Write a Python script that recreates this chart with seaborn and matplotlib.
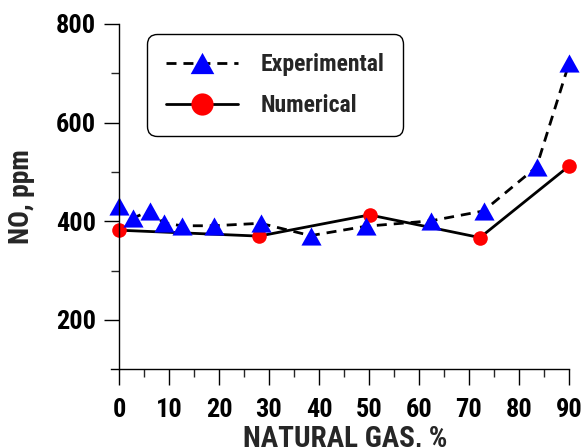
import matplotlib
matplotlib.use("Agg")
import matplotlib.pyplot as plt
import seaborn as sns
import pandas as pd
from matplotlib import font_manager
from matplotlib.lines import Line2D
from matplotlib.ticker import FixedLocator

# ---- data ----
exp_x = [0, 2.7, 6.1, 8.9, 12.5, 18.9, 28.3, 38.3, 49.4, 62.4, 72.9, 83.5, 90.0]
exp_y = [431, 406, 421, 397, 391, 391, 396, 371, 390, 401, 421, 510, 720]
num_x = [0, 28.0, 50.1, 72.2, 90.0]
num_y = [382, 370, 413, 367, 512]
x_ticks = [0, 10, 20, 30, 40, 50, 60, 70, 80, 90]
y_ticks = [200, 400, 600, 800]
labels = ["Experimental", "Numerical"]

sns.set_style("white")
names = {f.name for f in font_manager.fontManager.ttflist}
fam = "Liberation Sans"
for cand in ["Liberation Sans Narrow", "Roboto Condensed", "PT Sans Narrow"]:
    if cand in names:
        fam = cand
        break
plt.rcParams["font.family"] = [fam, "DejaVu Sans"]
plt.rcParams["font.weight"] = "bold"

W, H = 587, 447
fig = plt.figure(figsize=(W / 100, H / 100), dpi=100)
ax = fig.add_axes([110.7 / W, 1 - 369.3 / H, 458.3 / W, 345.3 / H])

tri = [(-1, -0.9), (1, -0.9), (0, 0.9)]

df_num = pd.DataFrame({"x": num_x, "y": num_y})
df_exp = pd.DataFrame({"x": exp_x, "y": exp_y})

sns.lineplot(data=df_num, x="x", y="y", ax=ax, color="black", linewidth=2.0,
             marker="o", markersize=10.5, markerfacecolor="#ff0000",
             markeredgewidth=0, markeredgecolor="#ff0000", sort=False)
sns.lineplot(data=df_exp, x="x", y="y", ax=ax, color="black", linewidth=2.0,
             linestyle="--",
             marker=tri, markersize=14.5, markerfacecolor="#0000ff",
             markeredgewidth=0, markeredgecolor="#0000ff", sort=False)
for ln in ax.lines:
    ln.set_clip_on(False)
ax.lines[-1].set_dashes((3.6, 2.5))

ax.set_xlim(-1.66, 90)
ax.set_ylim(100, 800)

ax.spines["top"].set_visible(False)
ax.spines["right"].set_visible(False)
ax.spines["left"].set_position(("data", 0))
for s in ("left", "bottom"):
    ax.spines[s].set_linewidth(1.0)
    ax.spines[s].set_color("black")

ax.xaxis.set_major_locator(FixedLocator(x_ticks))
ax.xaxis.set_minor_locator(FixedLocator([5, 15, 25, 35, 45, 55, 65, 75, 85]))
ax.yaxis.set_major_locator(FixedLocator(y_ticks))
ax.yaxis.set_minor_locator(FixedLocator([300, 500, 700]))
ax.set_xticklabels([str(v) for v in x_ticks])
ax.set_yticklabels([str(v) for v in y_ticks])

fs = 19
ax.tick_params(axis="x", which="major", direction="out", length=11.5, width=1.0,
               pad=9.5, labelsize=fs, colors="black", bottom=True)
ax.tick_params(axis="x", which="minor", direction="out", length=5.8, width=1.0,
               bottom=True)
ax.tick_params(axis="y", which="major", direction="out", length=10.8, width=1.0,
               pad=5.5, labelsize=fs, colors="black", left=True)
ax.tick_params(axis="y", which="minor", direction="out", length=5.8, width=1.0,
               left=True)
for t in ax.get_xticklabels() + ax.get_yticklabels():
    t.set_fontweight("bold")

ax.set_xlabel("NATURAL GAS, %", fontsize=21, fontweight="bold", va="top")
ax.xaxis.set_label_coords((345 - 110.7) / 458.3, (369.3 - 424.5) / 345.3)
ax.set_ylabel("NO, ppm", fontsize=20, fontweight="bold", va="center")
ax.yaxis.set_label_coords((22 - 110.7) / 458.3, 0.5)

handles = [
    Line2D([], [], color="black", linewidth=2.0, dashes=(3.6, 2.5), marker=tri,
           markersize=17, markerfacecolor="#0000ff", markeredgewidth=0),
    Line2D([], [], color="black", linewidth=2.0, marker="o", markersize=16,
           markerfacecolor="#ff0000", markeredgewidth=0),
]
leg = fig.legend(handles, labels, loc="upper left",
                 bbox_to_anchor=(147.3 / W, 1 - 34.3 / H), borderaxespad=0,
                 prop={"family": [fam, "DejaVu Sans"], "weight": "bold", "size": 17},
                 handlelength=3.05, handletextpad=0.95, borderpad=0.8,
                 labelspacing=0.75, frameon=True, fancybox=True)
fr = leg.get_frame()
fr.set_edgecolor("black")
fr.set_linewidth(1.0)
fr.set_facecolor("white")
fr.set_alpha(1)
fr.set_boxstyle("round", pad=0, rounding_size=0.4)

fig.savefig("out.png", dpi=100, facecolor="white")
